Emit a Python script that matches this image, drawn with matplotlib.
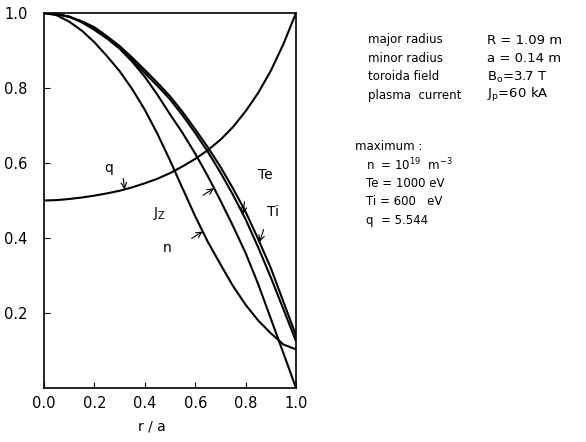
import numpy as np
import matplotlib.pyplot as plt

# profiles normalised to their maximum
r = [0.0, 0.05, 0.1, 0.15, 0.2, 0.25, 0.3, 0.35, 0.4, 0.45, 0.5,
     0.55, 0.6, 0.65, 0.7, 0.75, 0.8, 0.85, 0.9, 0.95, 1.0]
q_prof = [0.5, 0.501, 0.504, 0.508, 0.513, 0.519, 0.526, 0.535, 0.546, 0.558, 0.573,
          0.591, 0.611, 0.634, 0.662, 0.696, 0.738, 0.787, 0.846, 0.917, 1.0]
jz_prof = [1.0, 0.997, 0.99, 0.975, 0.955, 0.932, 0.905, 0.87, 0.83, 0.782, 0.73,
           0.68, 0.625, 0.565, 0.50, 0.432, 0.36, 0.277, 0.185, 0.093, 0.0]
te_prof = [1.0, 0.997, 0.99, 0.977, 0.96, 0.935, 0.907, 0.875, 0.84, 0.806, 0.77,
           0.727, 0.68, 0.63, 0.575, 0.515, 0.45, 0.375, 0.295, 0.21, 0.125]
ti_prof = [1.0, 0.997, 0.99, 0.978, 0.962, 0.938, 0.912, 0.881, 0.848, 0.814, 0.778,
           0.736, 0.69, 0.642, 0.59, 0.532, 0.47, 0.397, 0.32, 0.23, 0.14]
n_prof = [1.0, 0.994, 0.977, 0.953, 0.922, 0.885, 0.845, 0.797, 0.742, 0.678, 0.607,
          0.532, 0.458, 0.39, 0.33, 0.272, 0.222, 0.18, 0.146, 0.116, 0.103]

xticks = [0.0, 0.2, 0.4, 0.6, 0.8, 1.0]
yticks = [0.2, 0.4, 0.6, 0.8, 1.0]

params = [("major radius", "R = 1.09 m"),
          ("minor radius", "a = 0.14 m"),
          ("toroida field", r"B$_\mathregular{o}$=3.7 T"),
          ("plasma  current", r"J$_\mathregular{p}$=60 kA")]
maxima = [r"n  = 10$^\mathregular{19}$  m$^\mathregular{-3}$",
          "Te = 1000 eV",
          "Ti = 600   eV",
          "q  = 5.544"]

W, H = 586, 442
fig = plt.figure(figsize=(W / 100, H / 100), dpi=100)
ax = fig.add_axes([44 / W, 1 - 388 / H, 252 / W, 375 / H])

lw = 1.5
ax.plot(r, q_prof, color="black", lw=lw)
ax.plot(r, jz_prof, color="black", lw=lw)
ax.plot(r, te_prof, color="black", lw=lw)
ax.plot(r, ti_prof, color="black", lw=lw)
ax.plot(r, n_prof, color="black", lw=lw)

ax.set_xlim(0, 1)
ax.set_ylim(0, 1)
ax.set_xticks(xticks)
ax.set_yticks(yticks)
ax.set_xticklabels([f"{t:.1f}" for t in xticks], fontsize=10.5)
ax.set_yticklabels([f"{t:.1f}" for t in yticks], fontsize=10.5)
ax.tick_params(direction="in", length=4, width=0.8)
ax.tick_params(axis="y", pad=12)
ax.tick_params(axis="x", pad=6)
for s in ax.spines.values():
    s.set_linewidth(1.2)

ax.set_xlabel("r / a", fontsize=10)
ax.xaxis.set_label_coords(0.43, -0.085)

# curve labels with small arrows
labels = [("q", 0.255, 0.586, q_prof, 0.32, (-1, 8)),
          (r"J$_\mathregular{Z}$", 0.46, 0.466, jz_prof, 0.675, (-8, -5)),
          ("n", 0.487, 0.372, n_prof, 0.63, (-8, -5)),
          ("Te", 0.877, 0.568, te_prof, 0.79, (1, 9)),
          ("Ti", 0.91, 0.47, ti_prof, 0.855, (3, 9))]
for txt, lx, ly, ys, ra, off in labels:
    ax.text(lx, ly, txt, fontsize=10, ha="center", va="center")
    ya = np.interp(ra, r, ys)
    ax.annotate("", xy=(ra, ya), xytext=off, textcoords="offset points",
                arrowprops=dict(arrowstyle="->", lw=0.8, color="black",
                                shrinkA=0, shrinkB=0))

# parameter text on the right
for i, (name, val) in enumerate(params):
    y = 1 - (40 + i * 18.5) / H
    fig.text(368 / W, y, name, fontsize=8.5, va="center")
    fig.text(487 / W, y, val, fontsize=9.5, va="center")

fig.text(355 / W, 1 - 147 / H, "maximum :", fontsize=8.5, va="center")
for i, s in enumerate(maxima):
    fig.text(366 / W, 1 - (165 + i * 18.5) / H, s, fontsize=8.5, va="center")

fig.savefig("out.png", dpi=100)
